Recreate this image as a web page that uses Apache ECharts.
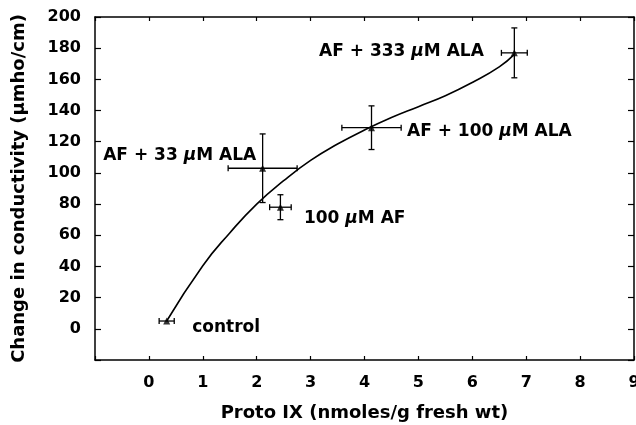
<!DOCTYPE html>
<html>
<head>
<meta charset="utf-8">
<script src="https://cdn.jsdelivr.net/npm/echarts@6/dist/echarts.min.js"></script>
<style>
  html, body { margin: 0; padding: 0; background: #fff; }
  #chart { width: 636px; height: 425px; }
</style>
</head>
<body>
<div id="chart"></div>
<script>
// measured points (Proto IX vs change in conductivity)
const pointNames = ['control', 'AF + 33 µM ALA', '100 µM AF', 'AF + 100 µM ALA', 'AF + 333 µM ALA'];
const pointX = [0.33, 2.11, 2.44, 4.13, 6.78];
const pointY = [5, 103, 78, 129, 177];
const errX = [0.14, 0.64, 0.2, 0.55, 0.24];
const errY = [0, 22, 8, 14, 16];

// fitted curve
const curveX = [0.33, 1.0, 1.5, 2.0, 2.5, 3.0, 3.5, 4.0, 4.5, 5.0, 5.5, 6.0, 6.5, 6.78];
const curveY = [5, 40.5, 61.5, 80, 95, 108, 118.5, 127.5, 135.5, 142.5, 149.5, 158, 168, 176];

const font = 'DejaVu Sans';
const ink = '#000';

// label placement next to each point
const labelPlace = [
    { position: 'right', offset: [22, 7] },
    { position: 'left', offset: [-3, -13] },
    { position: 'right', offset: [20, 11] },
    { position: 'right', offset: [32, 4] },
    { position: 'left', offset: [-27, -1] }
];

const richLabel = (name) => {
    const parts = name.split('µ');
    if (parts.length < 2) return '{n|' + name + '}';
    return '{n|' + parts[0] + '}{mu|µ}{n|' + parts[1] + '}';
};

const chart = echarts.init(document.getElementById('chart'));

const pointData = pointX.map((x, i) => ({
    value: [x, pointY[i], errX[i], errY[i]],
    label: {
        show: true,
        position: labelPlace[i].position,
        distance: 0,
        offset: labelPlace[i].offset,
        color: ink,
        opacity: 1,
        formatter: richLabel(pointNames[i]),
        rich: {
            n: { fontFamily: font, fontSize: 17, fontWeight: 'bold', color: ink },
            mu: { fontFamily: font, fontSize: 17, fontWeight: 'bold', fontStyle: 'italic', color: ink }
        }
    }
}));

const curveData = curveX.map((x, i) => [x, curveY[i]]);

const hiddenFirst = (v) => v < 0 ? '' : String(v);

const baseX = {
    type: 'value', min: -1, max: 9, interval: 1,
    axisLine: { show: true, onZero: false, lineStyle: { color: ink, width: 1.5 } },
    axisTick: { show: true, inside: true, length: 4, lineStyle: { color: ink, width: 1.2 } },
    splitLine: { show: false }
};
const baseY = {
    type: 'value', min: -20, max: 200, interval: 20,
    axisLine: { show: true, onZero: false, lineStyle: { color: ink, width: 1.5 } },
    axisTick: { show: true, inside: true, length: 6, lineStyle: { color: ink, width: 1.2 } },
    splitLine: { show: false }
};

chart.setOption({
    animation: false,
    backgroundColor: '#fff',
    grid: { left: 95, right: 2, top: 17, bottom: 65, outerBoundsMode: 'none', containLabel: false },
    xAxis: [
        Object.assign({}, baseX, {
            position: 'bottom',
            name: 'Proto IX (nmoles/g fresh wt)',
            nameLocation: 'middle',
            nameGap: 44,
            nameTextStyle: { fontFamily: font, fontSize: 18, fontWeight: 'bold', color: ink },
            axisLabel: {
                margin: 15, fontFamily: font, fontSize: 16, fontWeight: 'bold', color: ink,
                formatter: hiddenFirst
            }
        }),
        Object.assign({}, baseX, { position: 'top', axisLabel: { show: false } })
    ],
    yAxis: [
        Object.assign({}, baseY, {
            position: 'left',
            name: 'Change in conductivity (µmho/cm)',
            nameLocation: 'middle',
            nameGap: 67,
            nameTextStyle: { fontFamily: font, fontSize: 18, fontWeight: 'bold', color: ink },
            axisLabel: {
                margin: 14, fontFamily: font, fontSize: 16, fontWeight: 'bold', color: ink,
                formatter: hiddenFirst
            }
        }),
        Object.assign({}, baseY, { position: 'right', axisLabel: { show: false } })
    ],
    series: [
        {
            type: 'line',
            data: curveData,
            smooth: 0.5,
            symbol: 'none',
            lineStyle: { color: ink, width: 1.6 },
            z: 2
        },
        {
            // error bars drawn from data through the axis scales
            type: 'custom',
            data: pointData.map(d => d.value),
            renderItem: (params, api) => {
                const x = api.value(0), y = api.value(1);
                const ex = api.value(2), ey = api.value(3);
                const c = api.coord([x, y]);
                const l = api.coord([x - ex, y]);
                const r = api.coord([x + ex, y]);
                const t = api.coord([x, y + ey]);
                const b = api.coord([x, y - ey]);
                const style = { stroke: ink, lineWidth: 1.3, fill: null };
                const kids = [
                    { type: 'line', shape: { x1: l[0], y1: c[1], x2: r[0], y2: c[1] }, style },
                    { type: 'line', shape: { x1: l[0], y1: c[1] - 3, x2: l[0], y2: c[1] + 3 }, style },
                    { type: 'line', shape: { x1: r[0], y1: c[1] - 3, x2: r[0], y2: c[1] + 3 }, style }
                ];
                if (ey > 0) {
                    kids.push(
                        { type: 'line', shape: { x1: c[0], y1: t[1], x2: c[0], y2: b[1] }, style },
                        { type: 'line', shape: { x1: c[0] - 3, y1: t[1], x2: c[0] + 3, y2: t[1] }, style },
                        { type: 'line', shape: { x1: c[0] - 3, y1: b[1], x2: c[0] + 3, y2: b[1] }, style }
                    );
                }
                return { type: 'group', children: kids };
            },
            z: 3
        },
        {
            type: 'scatter',
            data: pointData,
            symbol: 'triangle',
            symbolSize: 7,
            itemStyle: { color: ink },
            z: 4
        }
    ]
});
</script>
</body>
</html>
